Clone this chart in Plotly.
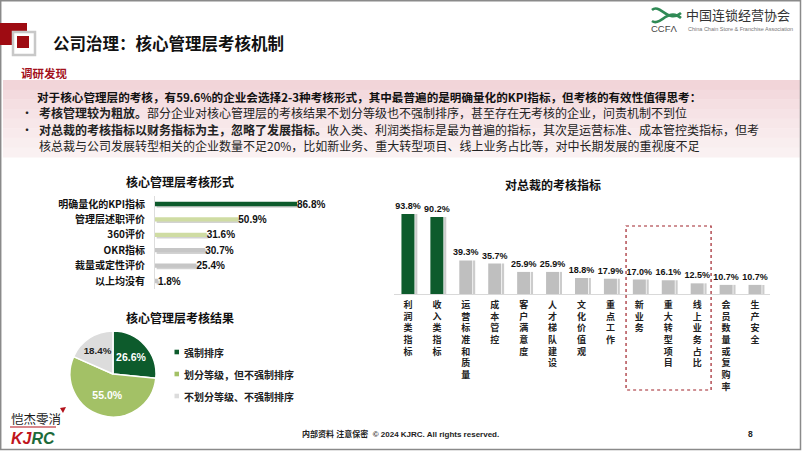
import plotly.graph_objects as go

W, H = 802, 451
CJK = "Noto Sans CJK SC"
LAT = "Liberation Sans, Noto Sans CJK SC"

# ---------------- data ----------------
form_cats = ["明确量化的KPI指标", "管理层述职评价", "360评价", "OKR指标", "裁量或定性评价", "以上均没有"]
form_vals = [86.8, 50.9, 31.6, 30.7, 25.4, 1.8]
form_colors = ["#0d5b2c", "#cfdca3", "#cfdca3", "#c6c6c6", "#c6c6c6", "#c6c6c6"]

result_labels = ["强制排序", "划分等级，但不强制排序", "不划分等级、不强制排序"]
result_vals = [26.6, 55.0, 18.4]
result_colors = ["#0d5b2c", "#a3c166", "#dcdcdc"]
result_text_colors = ["#ffffff", "#ffffff", "#222222"]

ceo_cats = ["利润类指标", "收入类指标", "运营标准和质量", "成本管控", "客户满意度", "人才梯队建设",
            "文化价值观", "重点工作", "新业务", "重大转型项目", "线上业务占比", "会员数量或复购率", "生产安全"]
ceo_vals = [93.8, 90.2, 39.3, 35.7, 25.9, 25.9, 18.8, 17.9, 17.0, 16.1, 12.5, 10.7, 10.7]
ceo_colors = ["#0d5b2c", "#0d5b2c"] + ["#bfbfbf"] * 11
highlight_cats = ["新业务", "重大转型项目", "线上业务占比"]

bullet1_bold = "考核管理较为粗放。"
bullet1_rest = "部分企业对核心管理层的考核结果不划分等级也不强制排序，甚至存在无考核的企业，问责机制不到位"


def px(x):
    return x / W


def py(y):
    return 1 - y / H


fig = go.Figure()

# ---------------- left: horizontal bars ----------------
fig.add_trace(go.Bar(
    y=form_cats, x=form_vals, orientation="h", base=1.0,
    marker=dict(color="#d2d2d2", line=dict(width=0)),
    width=0.28, offset=-0.04, xaxis="x", yaxis="y", hoverinfo="skip", showlegend=False,
))
fig.add_trace(go.Bar(
    y=form_cats, x=form_vals, orientation="h",
    marker=dict(color=form_colors, line=dict(width=0)),
    width=0.28, offset=-0.14, xaxis="x", yaxis="y", showlegend=False,
    text=[f"{v:.1f}%" for v in form_vals], textposition="outside",
    textfont=dict(family=LAT, size=10, color="#111", weight="bold"),
    constraintext="none", cliponaxis=False,
))

# ---------------- right: vertical bars ----------------
fig.add_trace(go.Bar(
    x=ceo_cats, y=ceo_vals,
    marker=dict(color="#cccccc", line=dict(width=0)),
    width=0.075, offset=0.25, xaxis="x2", yaxis="y2", hoverinfo="skip", showlegend=False,
))
fig.add_trace(go.Bar(
    x=ceo_cats, y=ceo_vals,
    marker=dict(color=ceo_colors, line=dict(width=0)),
    width=0.45, offset=-0.225, xaxis="x2", yaxis="y2", showlegend=False,
    text=[f"{v:.1f}%" for v in ceo_vals], textposition="outside",
    textfont=dict(family=LAT, size=9, color="#111", weight="bold"),
    constraintext="none", cliponaxis=False,
))

# ---------------- pie ----------------
fig.add_trace(go.Pie(
    labels=result_labels, values=result_vals, sort=False, direction="clockwise", rotation=0,
    marker=dict(colors=result_colors, line=dict(color="#ffffff", width=1.5)),
    texttemplate="%{value:.1f}%", textposition="inside", insidetextorientation="horizontal",
    textfont=dict(family=LAT, size=10.5, color=result_text_colors, weight="bold"),
    domain=dict(x=[px(70), px(156)], y=[py(417), py(331)]),
    showlegend=False,
))

shapes = []
ann = []

# page frame
shapes.append(dict(type="rect", xref="paper", yref="paper", x0=px(0.7), x1=px(800.5), y0=py(0.7), y1=py(449.5),
                   line=dict(color="#8a8a8a", width=1.5), layer="above"))

# header logo squares
shapes.append(dict(type="rect", xref="paper", yref="paper", x0=px(0), x1=px(27), y0=py(23), y1=py(45),
                   fillcolor="#9e0b12", line=dict(width=0)))
shapes.append(dict(type="rect", xref="paper", yref="paper", x0=px(13), x1=px(35), y0=py(32), y1=py(55),
                   fillcolor="#ffffff", line=dict(color="#c8c8c8", width=2.5)))
shapes.append(dict(type="rect", xref="paper", yref="paper", x0=px(17), x1=px(29), y0=py(36), y1=py(48),
                   fillcolor="#9e0b12", line=dict(width=0)))

ann.append(dict(text="<b>公司治理：核心管理层考核机制</b>", x=px(51), y=py(43), xanchor="left", yanchor="middle",
                font=dict(family=CJK, size=16.5, color="#111")))

# CCFA logo
shapes.append(dict(type="path", xref="paper", yref="paper",
                   path=f"M {px(652)} {py(10)} C {px(660)} {py(3)}, {px(668)} {py(24)}, {px(681)} {py(13)}",
                   line=dict(color="#2f8a55", width=2.6)))
shapes.append(dict(type="path", xref="paper", yref="paper",
                   path=f"M {px(652)} {py(21)} C {px(660)} {py(27)}, {px(668)} {py(7)}, {px(681)} {py(18)}",
                   line=dict(color="#2f8a55", width=2.6)))
ann.append(dict(text="CCFΛ", x=px(649), y=py(28.5), xanchor="left", yanchor="middle",
                font=dict(family="Liberation Sans", size=9.5, color="#444")))
ann.append(dict(text="中国连锁经营协会", x=px(684), y=py(15), xanchor="left", yanchor="middle",
                font=dict(family=CJK, size=13, color="#333")))
ann.append(dict(text="China Chain Store &amp; Franchise Association", x=px(686), y=py(29), xanchor="left",
                yanchor="middle", font=dict(family="Liberation Sans", size=5.5, color="#777")))

# findings box
ann.append(dict(text="<b>调研发现</b>", x=px(19), y=py(73), xanchor="left", yanchor="middle",
                font=dict(family=CJK, size=11.5, color="#a3121c")))
band_colors = ["#f2d5d9", "#f3dade", "#f5dfe2", "#f6e3e6", "#f7e7e9", "#f8eaec", "#f9eeef", "#faf1f2"]
top, bot = 80, 157
step = (bot - top) / len(band_colors)
for i, c in enumerate(band_colors):
    shapes.append(dict(type="rect", xref="paper", yref="paper", x0=px(3), x1=px(800),
                       y0=py(top + i * step), y1=py(top + (i + 1) * step + 0.5),
                       fillcolor=c, line=dict(width=0), layer="below"))

ann.append(dict(text="<b>对于核心管理层的考核，有59.6%的企业会选择2-3种考核形式，其中最普遍的是明确量化的KPI指标，但考核的有效性值得思考：</b>",
                x=px(35), y=py(96.5), xanchor="left", yanchor="middle",
                font=dict(family=CJK, size=11.6, color="#111")))
ann.append(dict(text="•", x=px(19), y=py(113), xanchor="left", yanchor="middle",
                font=dict(family=CJK, size=12, color="#222")))
ann.append(dict(text="•", x=px(19), y=py(129), xanchor="left", yanchor="middle",
                font=dict(family=CJK, size=12, color="#222")))
ann.append(dict(text=f"<b>{bullet1_bold}</b>", x=px(37), y=py(113), xanchor="left", yanchor="middle",
                font=dict(family=CJK, size=12, color="#222")))
ann.append(dict(text=bullet1_rest, x=px(37 + 12 * len(bullet1_bold)), y=py(113), xanchor="left", yanchor="middle",
                font=dict(family=CJK, size=12, color="#222")))
ann.append(dict(text="<b>对总裁的考核指标以财务指标为主，忽略了发展指标。</b>收入类、利润类指标是最为普遍的指标，其次是运营标准、成本管控类指标，但考",
                x=px(37), y=py(129), xanchor="left", yanchor="middle",
                font=dict(family=CJK, size=12, color="#222")))
ann.append(dict(text="核总裁与公司发展转型相关的企业数量不足20%，比如新业务、重大转型项目、线上业务占比等，对中长期发展的重视度不足",
                x=px(37), y=py(145), xanchor="left", yanchor="middle",
                font=dict(family=CJK, size=12, color="#222")))

# chart titles
for t, x, y in [("核心管理层考核形式", 180, 181), ("对总裁的考核指标", 553, 185), ("核心管理层考核结果", 180, 317)]:
    ann.append(dict(text=f"<b>{t}</b>", x=px(x), y=py(y), xanchor="center", yanchor="middle",
                    font=dict(family=CJK, size=12, color="#111")))

# pie legend
for lab, col, y in zip(result_labels, result_colors, [352, 374, 396]):
    shapes.append(dict(type="rect", xref="paper", yref="paper", x0=px(174.5), x1=px(179), y0=py(y - 2.3),
                       y1=py(y + 2.3), fillcolor=col, line=dict(width=0)))
    ann.append(dict(text=f"<b>{lab}</b>", x=px(182), y=py(y), xanchor="left", yanchor="middle",
                    font=dict(family=CJK, size=10, color="#222")))

# highlight dotted box
shapes.append(dict(type="rect", xref="x2", yref="paper",
                   x0=ceo_cats.index(highlight_cats[0]) - 0.46, x1=ceo_cats.index(highlight_cats[-1]) + 0.48,
                   y0=py(226), y1=py(390), line=dict(color="#a0222a", width=1.2, dash="dot")))

# KJRC logo
ann.append(dict(text="恺杰零消", x=px(9), y=py(418), xanchor="left", yanchor="middle",
                font=dict(family=CJK, size=12.5, color="#1a1a1a")))
shapes.append(dict(type="line", xref="paper", yref="paper", x0=px(10), x1=px(56), y0=py(427), y1=py(427),
                   line=dict(color="#b3121b", width=1.2)))
shapes.append(dict(type="path", xref="paper", yref="paper",
                   path=f"M {px(60)} {py(408)} L {px(66)} {py(407)} L {px(63)} {py(413)} Z",
                   fillcolor="#b3121b", line=dict(width=0)))
ann.append(dict(text="<b><i><span style='color:#c0141c'>KJ</span><span style='color:#1d6b3a'>RC</span></i></b>",
                x=px(9), y=py(438), xanchor="left", yanchor="middle",
                font=dict(family="Liberation Sans", size=16, color="#c0141c")))

# footer
ann.append(dict(text="<b>内部资料 注意保密  © 2024 KJRC. All rights reserved.</b>", x=px(400), y=py(434),
                xanchor="center", yanchor="middle", font=dict(family=LAT, size=8, color="#222")))
ann.append(dict(text="<b>8</b>", x=px(750), y=py(434), xanchor="center", yanchor="middle",
                font=dict(family=LAT, size=8.5, color="#222")))

for a in ann:
    a.setdefault("xref", "paper")
    a.setdefault("yref", "paper")
    a.setdefault("showarrow", False)

fig.update_layout(
    width=W, height=H, margin=dict(l=0, r=0, t=0, b=0),
    paper_bgcolor="#ffffff", plot_bgcolor="rgba(0,0,0,0)",
    barmode="overlay", showlegend=False,
    font=dict(family=CJK, color="#222"),
    shapes=shapes, annotations=ann,
    xaxis=dict(domain=[px(155), px(351.3)], range=[0, 120], showgrid=False, zeroline=False,
               showticklabels=False, showline=False, fixedrange=True),
    yaxis=dict(domain=[py(288.7), py(196.3)], type="category", categoryorder="array", categoryarray=form_cats,
               autorange="reversed", showgrid=False, zeroline=False, showline=True, linecolor="#dddddd",
               linewidth=1, ticks="", ticklabelstandoff=7,
               tickfont=dict(family=CJK, size=10, color="#111", weight="bold"), anchor="x"),
    xaxis2=dict(domain=[px(393.5), px(769.5)], type="category", categoryorder="array", categoryarray=ceo_cats,
                range=[-0.5, 12.5], showgrid=False, zeroline=False, showline=True, linecolor="#d9d9d9",
                linewidth=1, ticks="", tickmode="array", tickvals=ceo_cats,
                ticktext=["<br>".join(c) for c in ceo_cats], tickangle=0, ticklabelstandoff=2,
                tickfont=dict(family=CJK, size=9, color="#222", weight="bold"), anchor="y2"),
    yaxis2=dict(domain=[py(294), py(200.2)], range=[0, 110], showgrid=False, zeroline=False,
                showticklabels=False, showline=False, anchor="x2"),
)

fig.write_html("out.html", config={"displayModeBar": False, "staticPlot": True},
               post_script="document.documentElement.style.margin='0';document.body.style.margin='0';"
                           "document.body.style.overflow='hidden';")
